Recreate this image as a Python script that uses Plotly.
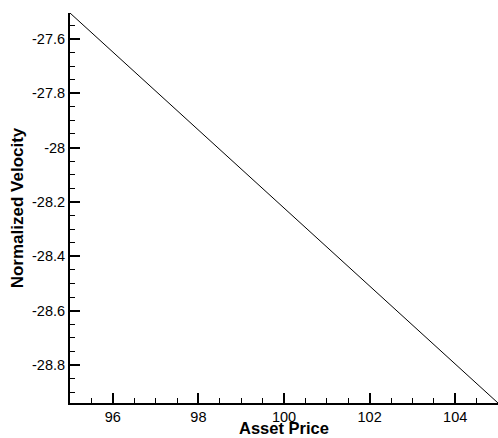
import plotly.graph_objects as go

asset_price = [95, 100, 105]
normalized_velocity = [-27.505, -28.2225, -28.94]

x_tick_vals = [96, 98, 100, 102, 104]
x_tick_text = ["96", "98", "100", "102", "104"]
y_tick_vals = [-27.6, -27.8, -28.0, -28.2, -28.4, -28.6, -28.8]
y_tick_text = ["-27.6", "-27.8", "-28", "-28.2", "-28.4", "-28.6", "-28.8"]

fig = go.Figure()
fig.add_trace(go.Scatter(x=asset_price, y=normalized_velocity, mode="lines",
                         line=dict(color="black", width=1), showlegend=False))

font = "Liberation Sans, Arial, Helvetica, sans-serif"
bottom = 35
plot_h = 438 - 13 - bottom
fig.update_layout(
    width=498, height=438,
    margin=dict(l=70, r=0, t=13, b=bottom, autoexpand=False),
    paper_bgcolor="white", plot_bgcolor="white",
    font=dict(family=font, size=14.5, color="black"),
)
fig.add_annotation(text="<b>Asset Price</b>", xref="paper", yref="paper",
                   x=0.5, y=-bottom / plot_h, xanchor="center", yanchor="bottom",
                   showarrow=False, font=dict(size=16.5), borderpad=0, yshift=0)
fig.update_xaxes(
    range=[95, 105], showgrid=False, zeroline=False, automargin=False,
    showline=True, linecolor="black", linewidth=2,
    ticks="inside", ticklen=10, tickwidth=2, tickcolor="black",
    tickmode="array", tickvals=x_tick_vals, ticktext=x_tick_text,
    minor=dict(ticks="inside", ticklen=5, tickwidth=1, tickcolor="black",
               tickmode="linear", tick0=95, dtick=0.5, showgrid=False),
)
fig.update_yaxes(
    range=[-28.94, -27.505], showgrid=False, zeroline=False, automargin=False,
    showline=True, linecolor="black", linewidth=2,
    ticks="inside", ticklen=10, tickwidth=2, tickcolor="black",
    tickmode="array", tickvals=y_tick_vals, ticktext=y_tick_text,
    minor=dict(ticks="inside", ticklen=5, tickwidth=1, tickcolor="black",
               tickmode="linear", tick0=-27.6, dtick=0.05, showgrid=False),
    title=dict(text="<b>Normalized Velocity</b>", font=dict(size=17), standoff=4),
)
fig.write_html("out.html", config={"displayModeBar": False},
               post_script="document.body.style.margin='0';document.body.style.overflow='hidden';")
